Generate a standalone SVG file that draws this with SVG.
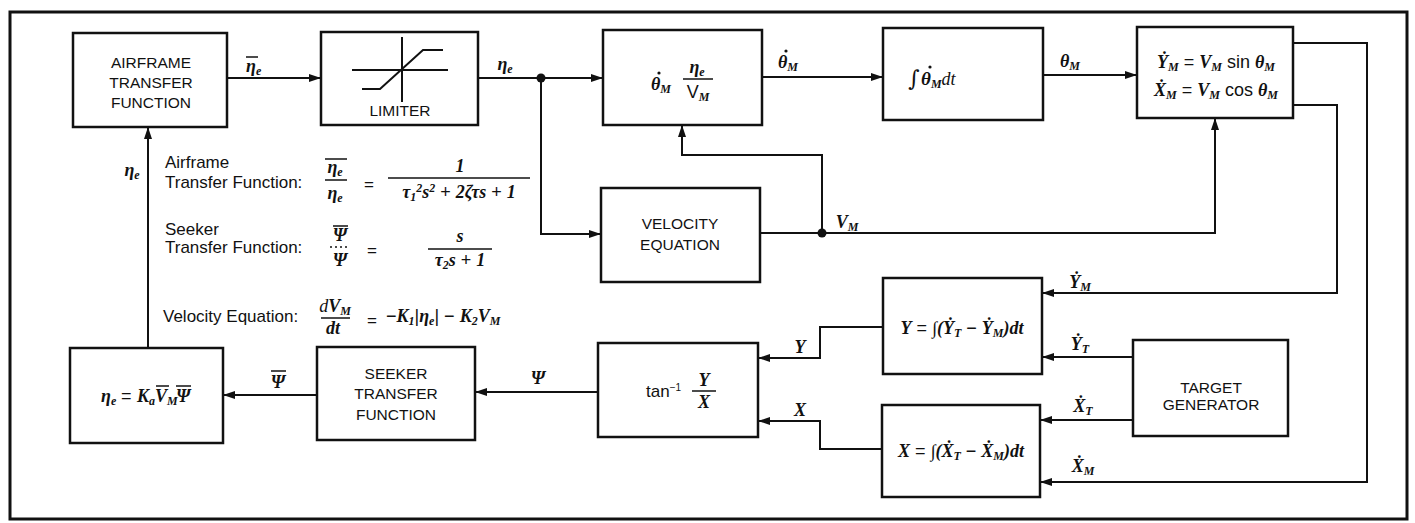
<svg xmlns="http://www.w3.org/2000/svg" width="1415" height="523" viewBox="0 0 1415 523">
<style>
.frame{fill:none;stroke:#111;stroke-width:3}
.box{fill:#fff;stroke:#111;stroke-width:2.5}
.ln{fill:none;stroke:#111;stroke-width:2}
.bar{stroke:#111;stroke-width:1.5}
.lbl{font-family:"Liberation Sans",Arial,sans-serif;font-size:15.5px;fill:#111;text-anchor:middle}
.eq{font-family:"Liberation Sans",Arial,sans-serif;font-size:17px;fill:#111}
.m{font-family:"Liberation Serif","Times New Roman",serif;font-style:italic;font-weight:bold;font-size:18px;fill:#111}
.up{font-style:normal;font-weight:normal;font-family:"Liberation Sans",Arial,sans-serif}
.int{font-family:"DejaVu Serif",serif;font-style:italic;font-weight:normal}
.c{text-anchor:middle}
.dot{fill:#111}
</style>
<defs>
<marker id="ah" viewBox="0 0 12 8" refX="12" refY="4" markerWidth="12" markerHeight="8" orient="auto" markerUnits="userSpaceOnUse"><path d="M0,0 L12,4 L0,8 Z" fill="#111"/></marker>
</defs>
<rect class="frame" x="10" y="12" width="1397" height="507"/>

<g id="connectors">
<path class="ln" d="M227,78 H321" marker-end="url(#ah)"/>
<path class="ln" d="M478,78 H603" marker-end="url(#ah)"/>
<circle cx="541" cy="78" r="4.5" fill="#111"/>
<path class="ln" d="M541,78 V234 H601" marker-end="url(#ah)"/>
<path class="ln" d="M762,77 H883" marker-end="url(#ah)"/>
<path class="ln" d="M1043,75 H1137" marker-end="url(#ah)"/>
<path class="ln" d="M760,233 H1215 V118" marker-end="url(#ah)"/>
<circle cx="822" cy="233" r="4.5" fill="#111"/>
<path class="ln" d="M822,233 V155 H682 V125" marker-end="url(#ah)"/>
<path class="ln" d="M1293,43 H1367 V482 H1040" marker-end="url(#ah)"/>
<path class="ln" d="M1293,105 H1337 V293 H1042" marker-end="url(#ah)"/>
<path class="ln" d="M1133,357 H1042" marker-end="url(#ah)"/>
<path class="ln" d="M1133,420 H1040" marker-end="url(#ah)"/>
<path class="ln" d="M883,327 H820 V358 H758" marker-end="url(#ah)"/>
<path class="ln" d="M882,449 H820 V421 H758" marker-end="url(#ah)"/>
<path class="ln" d="M598,392 H475" marker-end="url(#ah)"/>
<path class="ln" d="M317,395 H223" marker-end="url(#ah)"/>
<path class="ln" d="M148,348 V127" marker-end="url(#ah)"/>
<!-- connector labels -->
<text class="m" x="246" y="72">η<tspan font-size="12" dy="3">e</tspan></text>
<line class="bar" x1="246" y1="57" x2="258" y2="57"/>
<text class="m c" x="505" y="70">η<tspan font-size="12" dy="3">e</tspan></text>
<text class="m" x="778" y="68">θ<tspan font-size="12" dy="3">M</tspan></text>
<circle class="dot" cx="786" cy="51" r="1.6"/>
<text class="m c" x="1070" y="67">θ<tspan font-size="12" dy="3">M</tspan></text>
<text class="m c" x="847" y="228">V<tspan font-size="12" dy="3">M</tspan></text>
<text class="m c" x="1080" y="288">&#x1E8E;<tspan font-size="12" dy="3">M</tspan></text>
<text class="m c" x="1080" y="350">&#x1E8E;<tspan font-size="12" dy="3">T</tspan></text>
<text class="m c" x="1083" y="412">&#x1E8A;<tspan font-size="12" dy="3">T</tspan></text>
<text class="m c" x="1083" y="472">&#x1E8A;<tspan font-size="12" dy="3">M</tspan></text>
<text class="m c" x="800" y="353">Y</text>
<text class="m c" x="800" y="416">X</text>
<text class="m c" x="538" y="384">Ψ</text>
<text class="m c" x="278" y="388">Ψ</text>
<line class="bar" x1="271" y1="371" x2="286" y2="371"/>
<text class="m c" x="132" y="176">η<tspan font-size="12" dy="3">e</tspan></text>
</g>

<g id="airframe">
<rect class="box" x="73" y="33" width="154" height="94"/>
<text class="lbl" x="151" y="68">AIRFRAME</text>
<text class="lbl" x="151" y="88">TRANSFER</text>
<text class="lbl" x="151" y="108">FUNCTION</text>
</g>

<g id="limiter">
<rect class="box" x="321" y="32" width="157" height="93"/>
<path class="ln" d="M352,70 H448 M402,37 V102 M362,89 H380 L423,50 H443" stroke-width="1.8"/>
<text class="lbl" x="400" y="116">LIMITER</text>
</g>

<g id="theta-dot">
<rect class="box" x="603" y="30" width="159" height="95"/>
<text class="m" x="651" y="90">θ<tspan font-size="12" dy="3">M</tspan></text>
<circle class="dot" cx="659" cy="73" r="1.6"/>
<text class="m c" x="697" y="73">η<tspan font-size="12" dy="3">e</tspan></text>
<line class="bar" x1="683" y1="79" x2="713" y2="79"/>
<text class="m c" x="698" y="98"><tspan class="up">V</tspan><tspan font-size="12" dy="3">M</tspan></text>
</g>

<g id="integrator">
<rect class="box" x="883" y="28" width="160" height="92"/>
<text class="m" x="908" y="86"><tspan class="int" font-size="22">∫</tspan><tspan x="921" y="85" font-size="19">θ</tspan><tspan font-size="12" dy="3">M</tspan><tspan dy="-3" font-size="18" font-weight="normal">dt</tspan></text>
<circle class="dot" cx="930" cy="67" r="1.6"/>
</g>

<g id="kinematics">
<rect class="box" x="1137" y="27" width="156" height="91"/>
<text class="m c" x="1216" y="68">&#x1E8E;<tspan font-size="12" dy="3">M</tspan><tspan dy="-3" class="up"> = </tspan>V<tspan font-size="12" dy="3">M</tspan><tspan dy="-3" class="up"> sin </tspan>θ<tspan font-size="12" dy="3">M</tspan></text>
<text class="m c" x="1216" y="96">&#x1E8A;<tspan font-size="12" dy="3">M</tspan><tspan dy="-3" class="up"> = </tspan>V<tspan font-size="12" dy="3">M</tspan><tspan dy="-3" class="up"> cos </tspan>θ<tspan font-size="12" dy="3">M</tspan></text>
</g>

<g id="velocity">
<rect class="box" x="601" y="188" width="159" height="94"/>
<text class="lbl" x="680" y="229">VELOCITY</text>
<text class="lbl" x="680" y="250">EQUATION</text>
</g>

<g id="y-integrator">
<rect class="box" x="883" y="278" width="159" height="96"/>
<text class="m c" x="962" y="334">Y<tspan class="up"> = </tspan>∫(&#x1E8E;<tspan font-size="12" dy="3">T</tspan><tspan dy="-3" class="up"> − </tspan>&#x1E8E;<tspan font-size="12" dy="3">M</tspan><tspan dy="-3">)dt</tspan></text>
</g>

<g id="x-integrator">
<rect class="box" x="882" y="405" width="158" height="92"/>
<text class="m c" x="961" y="457">X<tspan class="up"> = </tspan>∫(&#x1E8A;<tspan font-size="12" dy="3">T</tspan><tspan dy="-3" class="up"> − </tspan>&#x1E8A;<tspan font-size="12" dy="3">M</tspan><tspan dy="-3">)dt</tspan></text>
</g>

<g id="target">
<rect class="box" x="1133" y="340" width="155" height="96"/>
<text class="lbl" x="1211" y="393" font-size="14">TARGET</text>
<text class="lbl" x="1211" y="410" font-size="14">GENERATOR</text>
</g>

<g id="arctan">
<rect class="box" x="598" y="343" width="160" height="94"/>
<text class="eq" x="646" y="397" font-size="15">tan<tspan font-size="10" dy="-6">−1</tspan></text>
<text class="m c" x="704" y="386">Y</text>
<line class="bar" x1="692" y1="391" x2="716" y2="391"/>
<text class="m c" x="704" y="408">X</text>
</g>

<g id="seeker">
<rect class="box" x="317" y="347" width="158" height="93"/>
<text class="lbl" x="396" y="379">SEEKER</text>
<text class="lbl" x="396" y="399">TRANSFER</text>
<text class="lbl" x="396" y="420">FUNCTION</text>
</g>

<g id="guidance">
<rect class="box" x="70" y="348" width="153" height="95"/>
<text class="m" x="101" y="402">η<tspan font-size="12" dy="3">e</tspan><tspan x="121" dy="-3" class="up">=</tspan><tspan x="137">K</tspan><tspan font-size="12" dy="3">a</tspan><tspan x="155" dy="-3">V</tspan><tspan font-size="12" dy="3">M</tspan><tspan x="176" dy="-3">Ψ</tspan></text>
<line class="bar" x1="156" y1="386" x2="169" y2="386"/>
<line class="bar" x1="176" y1="386" x2="191" y2="386"/>
</g>

<g id="equations">
<text class="eq" x="165" y="168">Airframe</text>
<text class="eq" x="165" y="188">Transfer Function:</text>
<text class="m c" x="335" y="173">η<tspan font-size="12" dy="3">e</tspan></text>
<line class="bar" x1="325" y1="159" x2="347" y2="159"/>
<line class="bar" x1="325" y1="180" x2="347" y2="180"/>
<text class="m c" x="335" y="199">η<tspan font-size="12" dy="3">e</tspan></text>
<text class="eq c" x="369" y="190" font-size="20">=</text>
<text class="m c" x="460" y="172">1</text>
<line class="bar" x1="388" y1="178" x2="530" y2="178"/>
<text class="m c" x="459" y="198">τ<tspan font-size="12" dy="3">1</tspan><tspan font-size="12" dy="-9">2</tspan><tspan dy="6">s</tspan><tspan font-size="12" dy="-6">2</tspan><tspan dy="6" class="up"> + </tspan>2ζτs<tspan class="up"> + </tspan>1</text>

<text class="eq" x="165" y="235">Seeker</text>
<text class="eq" x="165" y="253">Transfer Function:</text>
<text class="m c" x="340" y="241">Ψ</text>
<line class="bar" x1="333" y1="226" x2="348" y2="226"/>
<line class="bar" x1="330" y1="247" x2="350" y2="247" stroke-dasharray="2,3"/>
<text class="m c" x="340" y="266">Ψ</text>
<text class="eq c" x="372" y="256" font-size="20">=</text>
<text class="m c" x="460" y="242">s</text>
<line class="bar" x1="428" y1="249" x2="492" y2="249"/>
<text class="m c" x="460" y="266">τ<tspan font-size="12" dy="3">2</tspan><tspan dy="-3">s</tspan><tspan class="up"> + </tspan>1</text>

<text class="eq" x="163" y="322">Velocity Equation:</text>
<text class="m c" x="335" y="312"><tspan font-weight="normal">d</tspan>V<tspan font-size="12" dy="3">M</tspan></text>
<line class="bar" x1="321" y1="318" x2="350" y2="318"/>
<text class="m c" x="333" y="334" font-weight="normal">dt</text>
<text class="eq c" x="372" y="326" font-size="20">=</text>
<text class="m" x="386" y="322"><tspan class="up">−</tspan>K<tspan font-size="12" dy="3">1</tspan><tspan dy="-3" class="up">|</tspan>η<tspan font-size="12" dy="3">e</tspan><tspan dy="-3" class="up">| − </tspan>K<tspan font-size="12" dy="3">2</tspan><tspan dy="-3">V</tspan><tspan font-size="12" dy="3">M</tspan></text>
</g>
</svg>
